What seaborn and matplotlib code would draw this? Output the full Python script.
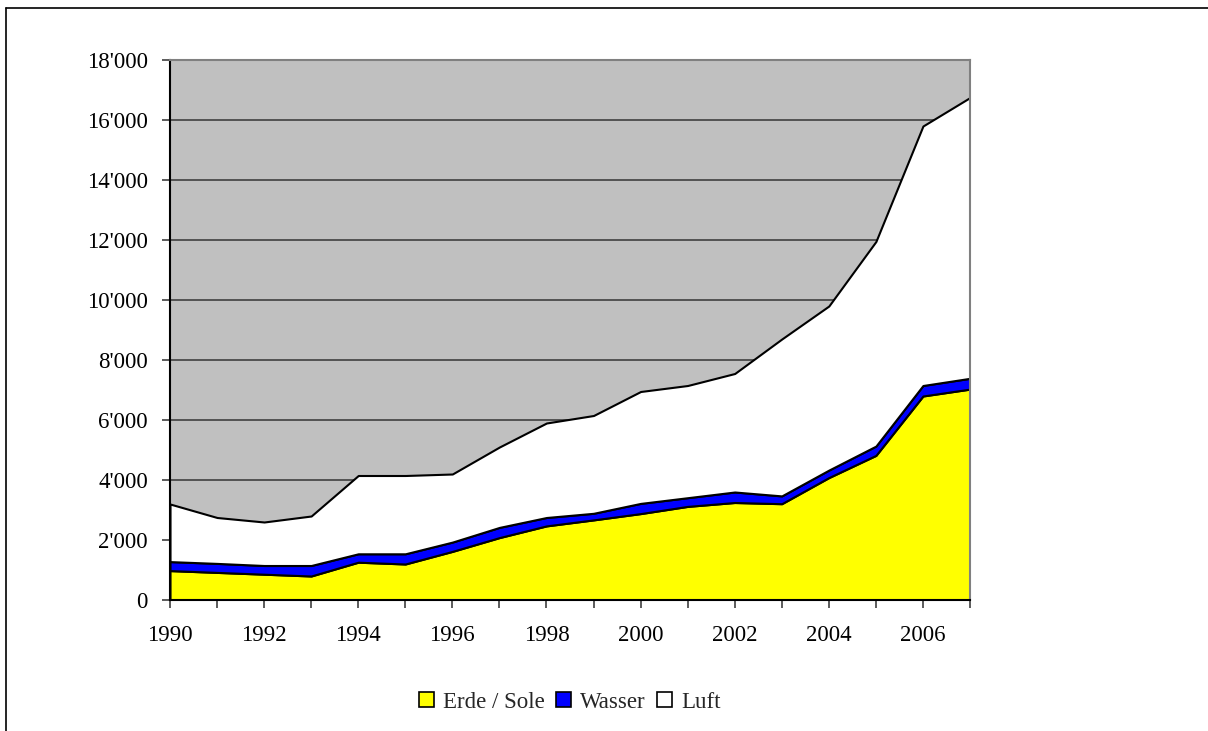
import numpy as np
import pandas as pd
import seaborn as sns
import matplotlib.pyplot as plt
from matplotlib.ticker import FuncFormatter, MultipleLocator
from matplotlib.patches import Patch
from matplotlib.lines import Line2D

# Data (installed heat pumps per type)
years = list(range(1990, 2008))
erde_sole = [980, 920, 860, 800, 1260, 1200, 1620, 2080, 2470, 2670,
             2880, 3120, 3250, 3210, 4080, 4820, 6800, 7030]
wasser = [300, 300, 290, 350, 280, 340, 310, 340, 280, 220,
          340, 290, 350, 260, 250, 310, 350, 360]
luft = [1920, 1530, 1450, 1650, 2610, 2610, 2270, 2680, 3150, 3260,
        3730, 3740, 3950, 5230, 5470, 6820, 8650, 9360]
series_names = ["Erde / Sole", "Wasser", "Luft"]
colors = ["#FFFF00", "#0000FF", "#FFFFFF"]

df = pd.DataFrame({"Jahr": years, "Erde / Sole": erde_sole,
                   "Wasser": wasser, "Luft": luft})

sns.set_theme(style="white")
plt.rcParams["font.family"] = ["Liberation Serif", "DejaVu Serif"]
plt.rcParams["font.size"] = 16.5

fig = plt.figure(figsize=(12.08, 7.31), dpi=100)
ax = fig.add_axes([170 / 1208, 131 / 731, 800 / 1208, 540 / 731])
ax.set_facecolor("#C0C0C0")

ax.stackplot(df["Jahr"], df["Erde / Sole"], df["Wasser"], df["Luft"],
             colors=colors, edgecolor="black", linewidth=1.5)

ax.set_xlim(1990, 2007)
ax.set_ylim(0, 18000)
ax.yaxis.set_major_locator(MultipleLocator(2000))
ax.yaxis.set_major_formatter(FuncFormatter(lambda v, p: f"{int(v):,}".replace(",", "'")))
ax.set_xticks(years)
ax.set_xticklabels([str(y) if y % 2 == 0 else "" for y in years])

ax.yaxis.grid(True, color="#404040", linewidth=1.2)
ax.set_axisbelow(True)

for side in ["left", "bottom"]:
    ax.spines[side].set_color("black")
    ax.spines[side].set_linewidth(1.5)
for side in ["top", "right"]:
    ax.spines[side].set_color("#808080")
    ax.spines[side].set_linewidth(1.5)

ax.tick_params(axis="y", which="major", left=True, length=6, width=1.2,
               color="#404040", pad=10, labelsize=16.5, labelcolor="black")
ax.tick_params(axis="x", which="major", bottom=True, length=6, width=1.2,
               color="#404040", pad=12, labelsize=16.5, labelcolor="black")
ax.set_xlabel("")
ax.set_ylabel("")

handles = [Patch(facecolor=c, edgecolor="black", linewidth=1.2) for c in colors]
fig.legend(handles, series_names, loc="center",
           bbox_to_anchor=(570 / 1208, 1 - 702 / 731), ncol=3, frameon=False,
           handlelength=0.65, handleheight=0.65, handletextpad=0.4,
           columnspacing=0.5, fontsize=16.5)

# outer chart border (left and top edges visible)
fig.add_artist(Line2D([6 / 1208, 6 / 1208], [0, 1 - 8 / 731], transform=fig.transFigure,
                      color="black", linewidth=1.2))
fig.add_artist(Line2D([6 / 1208, 1], [1 - 8 / 731, 1 - 8 / 731], transform=fig.transFigure,
                      color="black", linewidth=1.2))

fig.savefig("out.png", dpi=100)
